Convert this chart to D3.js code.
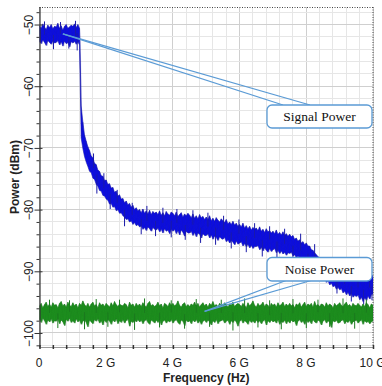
<!DOCTYPE html>
<html><head><meta charset="utf-8">
<script src="https://cdn.jsdelivr.net/npm/d3@7"></script>
<style>body{margin:0;background:#fff}svg{display:block}</style>
</head><body><svg id="c" width="382" height="386"></svg>
<script>
// ---------- data ----------
const xTicks = [0, 2, 4, 6, 8, 10];
const xTickLabels = ["0", "2 G", "4 G", "6 G", "8 G", "10 G"];
const yTicks = [-50, -60, -70, -80, -90, -100];
const xTitle = "Frequency (Hz)";
const yTitle = "Power (dBm)";
const sampleStepGHz = 0.05; // samples at 0, 0.05, ... 10 GHz

const signalHi = [
-50.2,-50.6,-49.9,-50.4,-50.8,-50.1,-50.5,-50.0,-50.7,-50.3,
-50.4,-49.8,-50.6,-50.2,-50.9,-50.3,-50.0,-50.6,-50.4,-50.1,
-50.3,-49.9,-50.5,-50.0,-50.6,-63.2,-65.8,-67.9,-68.9,-69.8,
-70.4,-71.3,-71.6,-72.5,-72.7,-73.6,-73.8,-74.5,-74.6,-75.3,
-75.2,-75.9,-75.8,-76.5,-76.4,-77.2,-77.0,-77.8,-77.6,-78.3,
-78.2,-78.9,-78.6,-79.2,-79.0,-79.6,-79.3,-80.0,-79.7,-80.2,
-80.0,-80.5,-79.9,-80.6,-80.2,-80.7,-80.1,-80.8,-80.3,-80.6,
-80.4,-80.8,-80.2,-80.9,-80.5,-81.0,-80.3,-80.7,-80.9,-80.4,
-80.6,-81.0,-80.4,-81.1,-80.8,-80.5,-81.2,-80.7,-81.0,-80.6,
-80.9,-81.3,-80.7,-81.4,-81.0,-81.5,-80.8,-81.3,-81.1,-81.6,
-81.2,-81.6,-81.0,-81.8,-81.4,-81.9,-81.3,-81.7,-82.0,-81.5,
-81.8,-82.1,-81.6,-82.3,-82.0,-82.4,-81.9,-82.5,-82.2,-82.7,
-82.4,-82.8,-82.2,-83.0,-82.6,-83.1,-82.7,-83.3,-82.9,-83.2,
-83.0,-83.4,-82.8,-83.5,-83.2,-83.7,-83.1,-83.6,-83.4,-83.8,
-83.5,-83.9,-83.3,-84.0,-83.7,-84.1,-83.6,-84.2,-83.9,-84.3,
-84.0,-84.4,-84.2,-84.8,-84.6,-85.1,-84.9,-85.4,-85.2,-85.7,
-85.4,-85.9,-85.9,-86.5,-86.6,-87.0,-87.3,-87.6,-87.9,-88.3,
-88.2,-88.8,-88.7,-89.3,-89.0,-89.7,-89.4,-90.0,-89.8,-90.2,
-90.0,-90.6,-90.3,-90.9,-90.5,-91.1,-90.7,-91.2,-90.8,-91.3,
-90.9,-91.4,-90.7,-91.5,-91.0,-91.3,-90.6,-91.2,-90.8,-91.0,
-90.6];
const signalLo = [
-52.8,-53.1,-52.5,-52.9,-53.4,-52.6,-52.9,-53.2,-52.7,-53.0,
-52.9,-52.6,-53.3,-52.8,-53.5,-52.7,-53.1,-52.9,-53.6,-52.8,
-53.0,-52.7,-53.2,-52.8,-53.3,-68.4,-70.1,-71.4,-72.3,-73.0,
-73.8,-74.0,-74.9,-75.1,-75.9,-76.2,-76.9,-77.0,-77.7,-77.8,
-78.3,-78.5,-79.1,-79.0,-79.6,-79.5,-80.2,-80.0,-80.6,-80.5,
-81.0,-81.2,-81.6,-81.5,-82.0,-81.8,-82.4,-82.1,-82.6,-82.4,
-82.8,-82.6,-83.2,-82.9,-83.4,-82.8,-83.1,-83.5,-82.9,-83.2,
-83.3,-83.0,-83.6,-83.2,-83.8,-83.1,-83.5,-83.3,-83.9,-83.2,
-83.5,-83.2,-83.9,-83.4,-84.1,-83.3,-83.7,-84.3,-83.5,-83.8,
-83.8,-83.5,-84.2,-83.7,-84.4,-83.8,-84.0,-84.6,-83.9,-84.2,
-84.2,-83.9,-84.6,-84.1,-84.8,-84.3,-84.5,-85.0,-84.4,-84.7,
-84.8,-84.5,-85.2,-84.9,-85.4,-85.0,-85.3,-85.7,-85.1,-85.6,
-85.4,-85.2,-85.9,-85.5,-86.0,-85.6,-86.2,-85.8,-86.3,-86.0,
-86.0,-85.8,-86.5,-86.1,-86.7,-86.2,-86.6,-86.9,-86.3,-86.8,
-86.5,-86.3,-87.0,-86.6,-87.1,-86.7,-87.2,-86.9,-87.4,-87.0,
-87.1,-86.9,-87.5,-87.3,-87.8,-87.5,-88.0,-87.8,-88.3,-88.0,
-88.5,-88.4,-89.1,-89.0,-89.7,-89.6,-90.3,-90.1,-90.8,-90.6,
-91.2,-91.0,-91.8,-91.5,-92.2,-91.9,-92.5,-92.3,-92.9,-92.6,
-93.0,-92.8,-93.5,-93.2,-93.8,-93.4,-94.0,-93.6,-94.2,-93.9,
-94.1,-93.8,-94.6,-94.2,-94.9,-94.3,-94.7,-94.0,-94.5,-93.8,
-93.6];
// isolated spikes beyond the band: [GHz, dBm]
const signalSpikes = [
[0.15,-49.5],[0.42,-54.0],[0.63,-49.6],[0.88,-53.9],[1.08,-49.4],[1.13,-54.2],
[1.62,-70.9],[1.72,-77.4],[1.93,-74.1],[2.12,-79.9],[2.33,-76.8],[2.55,-82.7],
[2.78,-78.9],[3.05,-84.0],[3.22,-79.4],[3.48,-84.3],[3.70,-79.7],[3.95,-84.5],
[4.12,-79.9],[4.37,-84.9],[4.60,-80.1],[4.83,-85.4],[5.05,-80.5],[5.28,-85.7],
[5.52,-81.0],[5.75,-86.3],[5.98,-81.6],[6.20,-86.9],[6.45,-82.2],[6.68,-87.6],
[6.90,-82.7],[7.12,-87.9],[7.35,-83.1],[7.60,-88.6],[7.83,-83.9],[8.05,-89.3],
[8.25,-85.6],[8.48,-91.5],[8.70,-88.3],[8.92,-93.6],[9.15,-89.5],[9.35,-94.9],
[9.55,-89.9],[9.72,-95.4],[9.90,-90.0],[9.97,-94.7]
];
const noiseHi = [
-95.6,-95.2,-95.9,-95.4,-95.0,-95.7,-95.3,-95.8,-95.1,-95.5,
-95.4,-95.9,-95.2,-94.9,-95.6,-95.3,-95.8,-95.0,-95.5,-95.7,
-95.1,-95.6,-95.3,-95.9,-95.2,-95.5,-94.8,-95.4,-95.7,-95.2,
-95.8,-95.3,-95.0,-95.6,-95.4,-95.9,-95.1,-95.5,-95.3,-95.7,
-95.2,-95.5,-95.8,-95.1,-95.6,-94.9,-95.4,-95.7,-95.3,-95.5,
-95.6,-95.2,-95.4,-95.9,-95.0,-95.5,-95.3,-95.8,-95.2,-95.6,
-95.3,-95.7,-95.1,-95.5,-95.8,-95.2,-94.9,-95.6,-95.4,-95.7,
-95.5,-95.0,-95.6,-95.3,-95.9,-95.2,-95.4,-95.7,-95.1,-95.5,
-95.2,-95.6,-95.4,-94.8,-95.5,-95.8,-95.3,-95.1,-95.7,-95.4,
-95.7,-95.3,-95.5,-95.0,-95.6,-95.2,-95.8,-95.4,-95.1,-95.6,
-95.3,-95.8,-95.2,-95.5,-94.9,-95.6,-95.4,-95.7,-95.2,-95.5,
-95.6,-95.1,-95.4,-95.8,-95.3,-95.5,-95.0,-95.7,-95.4,-95.2,
-95.4,-95.7,-95.2,-95.5,-95.9,-95.1,-95.6,-95.3,-94.8,-95.5,
-95.8,-95.2,-95.6,-95.4,-95.0,-95.7,-95.3,-95.5,-95.9,-95.2,
-95.5,-95.3,-95.8,-95.1,-95.6,-95.4,-95.0,-95.7,-95.3,-95.6,
-95.2,-95.6,-95.4,-95.9,-95.3,-95.5,-95.1,-95.8,-95.4,-95.0,
-95.7,-95.3,-95.5,-95.2,-95.8,-94.9,-95.6,-95.4,-95.7,-95.3,
-95.4,-95.8,-95.1,-95.6,-95.3,-95.5,-95.9,-95.2,-95.6,-95.4,
-95.1,-95.5,-95.7,-95.3,-95.0,-95.6,-95.4,-95.8,-95.2,-95.5,
-95.6,-95.2,-95.5,-95.8,-95.3,-95.7,-95.1,-95.4,-95.9,-95.3,
-95.5];
const noiseLo = [
-97.8,-98.3,-97.6,-98.0,-98.6,-97.9,-98.2,-97.7,-98.4,-98.0,
-98.1,-97.7,-98.5,-97.9,-98.2,-98.8,-97.8,-98.1,-97.6,-98.3,
-98.0,-98.4,-97.7,-98.2,-97.9,-98.6,-98.1,-97.8,-98.3,-99.0,
-97.9,-98.2,-98.5,-97.8,-98.1,-97.7,-98.4,-98.0,-98.7,-97.9,
-98.3,-97.8,-98.1,-98.6,-97.9,-98.2,-97.7,-98.5,-98.0,-98.3,
-97.8,-98.4,-98.0,-97.7,-98.9,-98.1,-98.3,-97.9,-98.2,-97.8,
-98.2,-97.9,-98.5,-98.0,-97.8,-98.3,-98.6,-97.9,-98.1,-98.4,
-97.9,-98.3,-97.8,-98.7,-98.1,-97.9,-98.4,-98.0,-98.2,-97.8,
-98.4,-98.0,-97.8,-98.3,-98.6,-97.9,-98.1,-98.8,-97.9,-98.2,
-98.0,-98.5,-97.9,-98.2,-97.8,-98.4,-98.0,-98.6,-98.1,-97.9,
-98.3,-97.9,-98.2,-98.7,-98.0,-98.3,-97.8,-98.5,-98.1,-98.0,
-97.8,-98.4,-98.1,-97.9,-98.6,-98.0,-98.3,-97.9,-98.2,-98.9,
-98.1,-97.8,-98.4,-98.0,-98.2,-98.6,-97.9,-98.3,-98.0,-98.4,
-97.9,-98.3,-98.0,-98.5,-98.1,-97.8,-98.7,-98.0,-98.3,-97.9,
-98.2,-98.0,-98.4,-97.8,-98.6,-98.1,-98.3,-97.9,-98.5,-98.0,
-98.4,-97.9,-98.2,-98.0,-98.8,-98.1,-97.8,-98.3,-98.0,-98.6,
-97.9,-98.3,-98.0,-98.5,-97.8,-98.2,-98.4,-97.9,-98.1,-98.7,
-98.1,-97.8,-98.4,-98.0,-98.3,-99.1,-98.0,-98.2,-97.9,-98.4,
-98.3,-98.0,-97.8,-98.5,-98.1,-98.3,-97.9,-98.6,-98.2,-98.0,
-97.9,-98.4,-98.1,-97.8,-98.6,-98.0,-98.3,-98.1,-98.5,-98.2,
-98.0];
const noiseSpikes = [
[0.30,-94.6],[0.55,-99.2],[0.90,-94.7],[1.35,-99.4],[1.70,-94.5],[2.05,-99.0],
[2.40,-94.6],[2.85,-99.5],[3.15,-94.4],[3.60,-99.1],[3.95,-94.7],[4.35,-99.3],
[4.70,-94.5],[5.10,-99.0],[5.45,-94.6],[5.80,-99.6],[6.15,-94.4],[6.55,-99.1],
[6.90,-94.7],[7.25,-99.4],[7.60,-94.5],[8.00,-99.2],[8.35,-94.6],[8.70,-99.0],
[9.10,-94.4],[9.45,-99.3],[9.80,-94.6]
];

// callouts: label, anchor point on trace [GHz, dBm]
const callouts = [
  {label: "Signal Power", anchor: [0.7, -51.5]},
  {label: "Noise Power", anchor: [4.95, -96.5]}
];

// ---------- drawing ----------
const svg = d3.select("#c");
const x = d3.scaleLinear([0, 10], [39.5, 373]);
const y = d3.scaleLinear([-102.27, -47.16], [347, 7]);
const [x0, x1] = x.range();
const [yb, yt] = y.range();

svg.append("defs").append("clipPath").attr("id", "clip")
  .append("rect").attr("x", x0).attr("y", yt).attr("width", x1 - x0).attr("height", yb - yt);

// grid
const gx = d3.range(0, 10.001, 0.4);
const gy = d3.range(-102, -47.5, 2);
const grid = svg.append("g");
grid.selectAll(".vx").data(gx).join("line")
  .attr("x1", d => x(d)).attr("x2", d => x(d)).attr("y1", yt).attr("y2", yb)
  .attr("stroke", d => Math.abs(d / 2 - Math.round(d / 2)) < 1e-6 ? "#cfcfcf" : "#e6e6e6")
  .attr("stroke-width", 1).attr("shape-rendering", "crispEdges");
grid.selectAll(".hy").data(gy).join("line")
  .attr("x1", x0).attr("x2", x1).attr("y1", d => y(d)).attr("y2", d => y(d))
  .attr("stroke", d => d % 10 === 0 ? "#cfcfcf" : "#e6e6e6")
  .attr("stroke-width", 1).attr("shape-rendering", "crispEdges");

// top & right dotted border
svg.append("line").attr("x1", x0).attr("x2", x1).attr("y1", yt + 0.5).attr("y2", yt + 0.5)
  .attr("stroke", "#444").attr("stroke-dasharray", "1,1.5");
svg.append("line").attr("x1", x1).attr("x2", x1).attr("y1", yt).attr("y2", yb)
  .attr("stroke", "#444").attr("stroke-dasharray", "1,1.5");

// traces
const plot = svg.append("g").attr("clip-path", "url(#clip)");
function drawTrace(hi, lo, spikes, fill, edge) {
  const pts = hi.map((h, i) => ({f: i * sampleStepGHz, h, l: lo[i]}));
  plot.append("path").datum(pts)
    .attr("d", d3.area().x(d => x(d.f)).y0(d => y(d.l)).y1(d => y(d.h)))
    .attr("fill", fill).attr("stroke", edge).attr("stroke-width", 0.6);
  const zig = [];
  pts.forEach(d => {
    zig.push([x(d.f), y(d.h)]);
    zig.push([x(d.f + sampleStepGHz / 2), y(d.l)]);
  });
  zig.pop();
  plot.append("path").attr("d", d3.line()(zig))
    .attr("fill", "none").attr("stroke", edge).attr("stroke-width", 0.5).attr("opacity", 0.6);
  plot.selectAll(null).data(spikes).join("line")
    .attr("x1", d => x(d[0])).attr("x2", d => x(d[0]))
    .attr("y1", d => { const i = Math.round(d[0] / sampleStepGHz); return y((hi[i] + lo[i]) / 2); })
    .attr("y2", d => y(d[1]))
    .attr("stroke", edge).attr("stroke-width", 1);
}
drawTrace(signalHi, signalLo, signalSpikes, "#0a0cf2", "#1a1aa8");
drawTrace(noiseHi, noiseLo, noiseSpikes, "#1f961f", "#1b7a1e");

// y axis
const yAxis = svg.append("g").attr("transform", `translate(${x0},0)`);
yAxis.call(d3.axisLeft(y).tickValues(d3.range(-102, -47.5, 2).filter(v => v % 10 !== 0))
  .tickSize(3).tickSizeOuter(0).tickFormat(""));
yAxis.call(g => g.select(".domain").attr("d", `M0.5,${yt}V${yb}`));
const yMajor = svg.append("g").attr("transform", `translate(${x0},0)`)
  .call(d3.axisLeft(y).tickValues(yTicks).tickSize(5).tickSizeOuter(0));
yMajor.select(".domain").remove();
yMajor.selectAll(".tick line").attr("x2", -5).attr("x1", 3);
yMajor.selectAll(".tick text")
  .attr("transform", "rotate(-90)").attr("x", 0).attr("y", -7).attr("dy", 0)
  .attr("text-anchor", "middle")
  .style("font-family", "Arial, 'Liberation Sans', sans-serif").style("font-size", "12px").attr("fill", "#222");
svg.selectAll(".tick line, .domain").attr("stroke", "#333");
yAxis.select(".domain").attr("stroke", "#333").attr("stroke-width", 1.2);

// x axis
const xAxisG = svg.append("g").attr("transform", `translate(0,${yb})`);
xAxisG.call(d3.axisBottom(x).tickValues(gx).tickSize(2).tickSizeOuter(0).tickFormat(""));
xAxisG.select(".domain").attr("stroke", "#333").attr("stroke-dasharray", "1,1").attr("d", `M${x0},0.5H${x1}`);
xAxisG.selectAll(".tick line").attr("y1", -2).attr("y2", 2).attr("stroke", "#333").attr("stroke-width", 1.5);
const xLab = svg.append("g").attr("transform", `translate(0,${yb})`)
  .call(d3.axisBottom(x).tickValues(xTicks).tickSize(0).tickPadding(11)
    .tickFormat((d, i) => xTickLabels[i]));
xLab.select(".domain").remove();
xLab.selectAll(".tick text").attr("dx", "-1")
  .style("font-family", "Arial, 'Liberation Sans', sans-serif").style("font-size", "12px").attr("fill", "#222");

// axis titles
svg.append("text").attr("x", (x0 + x1) / 2).attr("y", 382).attr("text-anchor", "middle")
  .style("font-family", "Arial, 'Liberation Sans', sans-serif").style("font-size", "12px")
  .style("font-weight", "bold").attr("fill", "#222").text(xTitle);
svg.append("text").attr("transform", `translate(19,${(yt + yb) / 2}) rotate(-90)`)
  .attr("text-anchor", "middle")
  .style("font-family", "Arial, 'Liberation Sans', sans-serif").style("font-size", "12px")
  .style("font-weight", "bold").attr("fill", "#222").text(yTitle);

// callouts
const boxes = [
  {bx: 267, by: 105, bw: 105, bh: 23, ends: [[283, 105], [310, 105]]},
  {bx: 267, by: 257.5, bw: 105, bh: 23.5, ends: [[286, 280.5], [311, 280.5]]}
];
callouts.forEach((c, i) => {
  const b = boxes[i];
  const ax = x(c.anchor[0]), ay = y(c.anchor[1]);
  const g = svg.append("g");
  b.ends.forEach(e => g.append("line").attr("x1", ax).attr("y1", ay).attr("x2", e[0]).attr("y2", e[1])
    .attr("stroke", "#5b9bd5").attr("stroke-width", 1.3));
  g.append("rect").attr("x", b.bx).attr("y", b.by).attr("width", b.bw).attr("height", b.bh)
    .attr("rx", 5).attr("fill", "#fff").attr("stroke", "#5b9bd5").attr("stroke-width", 1.3);
  g.append("text").attr("x", b.bx + b.bw / 2).attr("y", b.by + b.bh / 2 + 4.5)
    .attr("text-anchor", "middle")
    .style("font-family", "'Times New Roman', 'Liberation Serif', serif").style("font-size", "13.5px")
    .attr("fill", "#111").text(c.label);
});
</script></body></html>
